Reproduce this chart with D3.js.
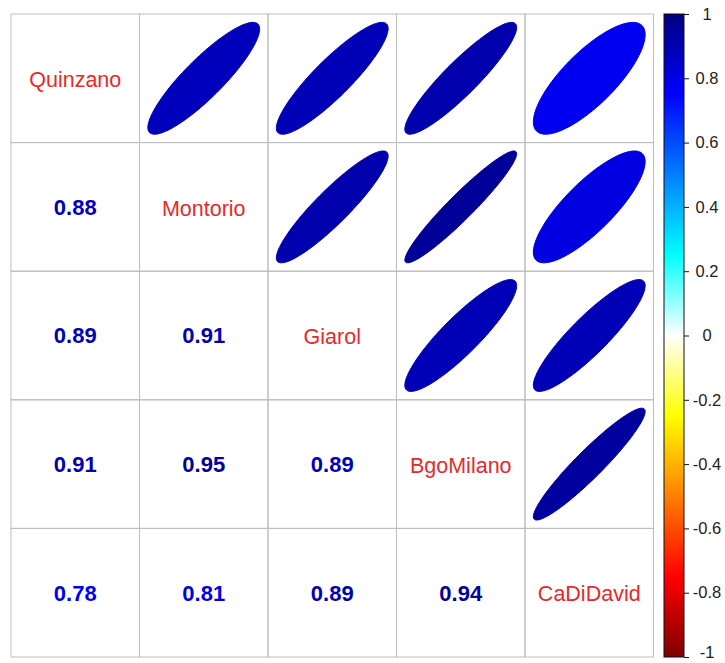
<!DOCTYPE html>
<html>
<head>
<meta charset="utf-8">
<script src="https://cdn.jsdelivr.net/npm/d3@7"></script>
<style>
  html, body { margin: 0; padding: 0; background: #fff; }
  text { font-family: "Liberation Sans", Arial, sans-serif; }
</style>
</head>
<body>
<svg id="corr" width="725" height="663"></svg>
<script>
const stations = ['Quinzano', 'Montorio', 'Giarol', 'BgoMilano', 'CaDiDavid'];
const corrRows = [
  [1.00, 0.88, 0.89, 0.91, 0.78],
  [0.88, 1.00, 0.91, 0.95, 0.81],
  [0.89, 0.91, 1.00, 0.89, 0.89],
  [0.91, 0.95, 0.89, 1.00, 0.94],
  [0.78, 0.81, 0.89, 0.94, 1.00],
];
const paletteColors = ['#7F0000', '#FF0000', '#FF7F00', '#FFFF00', '#FFFFFF',
  '#00FFFF', '#007FFF', '#0000FF', '#00007F'];
const legendTicks = [-1, -0.8, -0.6, -0.4, -0.2, 0, 0.2, 0.4, 0.6, 0.8, 1];

const svg = d3.select('#corr');
const grid = { left: 11, top: 14, right: 653.5, bottom: 657 };
const bar = { left: 664, right: 684 };

const x = d3.scaleBand().domain(d3.range(stations.length)).range([grid.left, grid.right]);
const y = d3.scaleBand().domain(d3.range(stations.length)).range([grid.top, grid.bottom]);
const color = d3.scaleLinear()
  .domain(paletteColors.map((c, i) => -1 + i * 2 / (paletteColors.length - 1)))
  .range(paletteColors);

const cells = [];
corrRows.forEach((row, i) => row.forEach((r, j) => cells.push({ i, j, r })));

// ellipse outline in cell units, same recipe corrplot uses
const ellipse = rho => d3.range(0, 100).map(s => {
  const k = s / 99 * 2 * Math.PI;
  const a = Math.acos(rho) / 2;
  return [Math.cos(k + a) / 2, Math.cos(k - a) / 2];
});

// grid
svg.append('g')
  .selectAll('rect')
  .data(cells)
  .join('rect')
    .attr('x', d => x(d.j))
    .attr('y', d => y(d.i))
    .attr('width', x.bandwidth())
    .attr('height', y.bandwidth())
    .attr('fill', 'none')
    .attr('stroke', '#bdbdbd')
    .attr('stroke-width', 1);

// upper triangle: ellipses
const line = d3.line();
svg.append('g')
  .selectAll('path')
  .data(cells.filter(d => d.j > d.i))
  .join('path')
    .attr('d', d => {
      const cx = x(d.j) + x.bandwidth() / 2;
      const cy = y(d.i) + y.bandwidth() / 2;
      return line(ellipse(d.r).map(([ex, ey]) => [
        cx + ex * x.bandwidth() * 0.87,
        cy - ey * y.bandwidth() * 0.87,
      ])) + 'Z';
    })
    .attr('fill', d => color(d.r))
    .attr('stroke', d => color(d.r))
    .attr('stroke-width', 1);

// lower triangle: numbers
svg.append('g')
  .selectAll('text')
  .data(cells.filter(d => d.j < d.i))
  .join('text')
    .attr('x', d => x(d.j) + x.bandwidth() / 2)
    .attr('y', d => y(d.i) + y.bandwidth() / 2)
    .attr('text-anchor', 'middle')
    .attr('dy', '0.36em')
    .attr('font-size', 22)
    .attr('font-weight', 'bold')
    .attr('fill', d => color(d.r))
    .text(d => d.r.toFixed(2));

// diagonal: names
svg.append('g')
  .selectAll('text')
  .data(stations)
  .join('text')
    .attr('x', (d, i) => x(i) + x.bandwidth() / 2)
    .attr('y', (d, i) => y(i) + y.bandwidth() / 2 + 1)
    .attr('text-anchor', 'middle')
    .attr('dy', '0.36em')
    .attr('font-size', 21.5)
    .attr('fill', '#e52a2a')
    .text(d => d);

// colour legend
const yBar = d3.scaleLinear().domain([-1, 1]).range([grid.bottom, grid.top]);
const grad = svg.append('defs').append('linearGradient')
  .attr('id', 'legend-grad')
  .attr('x1', 0).attr('y1', 1).attr('x2', 0).attr('y2', 0);
grad.selectAll('stop')
  .data(color.domain())
  .join('stop')
    .attr('offset', d => (d + 1) / 2)
    .attr('stop-color', d => color(d));

svg.append('rect')
  .attr('x', bar.left)
  .attr('y', yBar(1))
  .attr('width', bar.right - bar.left)
  .attr('height', yBar(-1) - yBar(1))
  .attr('fill', 'url(#legend-grad)')
  .attr('stroke', '#111')
  .attr('stroke-width', 1);

const axis = d3.axisRight(yBar)
  .tickValues(legendTicks)
  .tickSize(5)
  .tickPadding(10)
  .tickFormat(d => String(+d.toFixed(1)));

svg.append('g')
  .attr('transform', `translate(${bar.right}, 0)`)
  .call(axis)
  .call(g => g.select('.domain').remove())
  .call(g => g.selectAll('line').attr('stroke', '#111'))
  .call(g => g.selectAll('text')
    .attr('x', 23)
    .attr('text-anchor', 'middle')
    .attr('font-size', 16.5)
    .attr('font-family', '"Liberation Sans", Arial, sans-serif')
    .attr('fill', '#222')
    // keep the bottom label inside the frame
    .attr('dy', d => d === -1 ? '0.05em' : '0.32em'));
</script>
</body>
</html>
